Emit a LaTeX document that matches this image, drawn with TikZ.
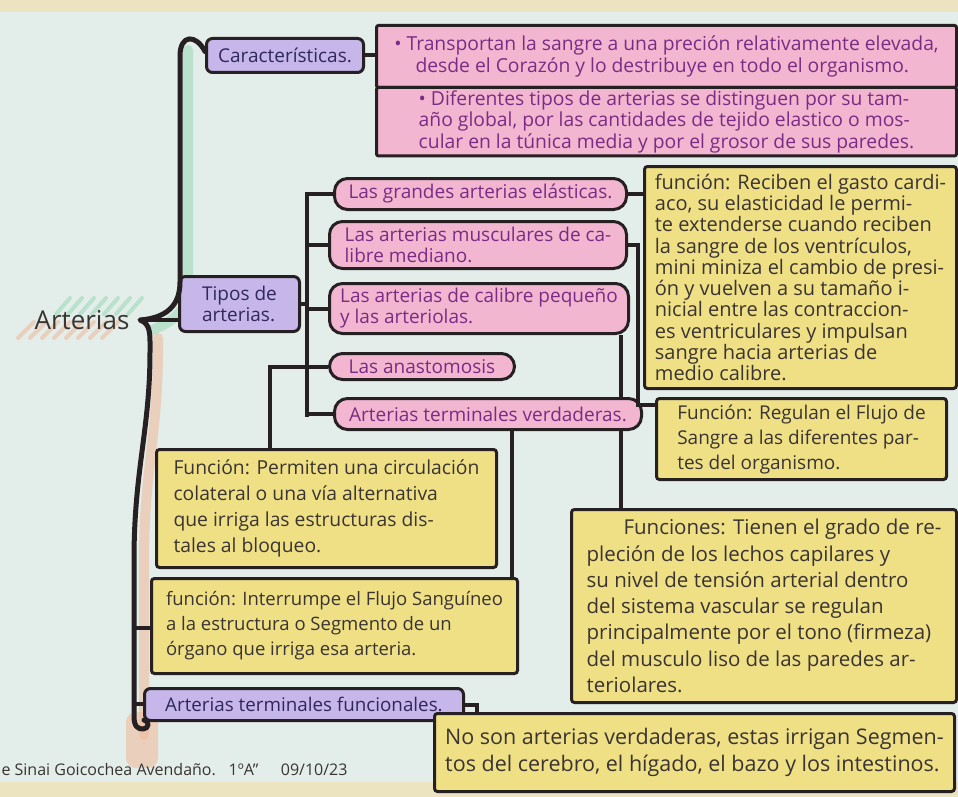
\documentclass[tikz,border=0pt]{standalone}
\usepackage{fontspec}
\setmainfont{Open Sans}
\usepackage{xcolor}

\definecolor{papel}{RGB}{227,237,233}
\definecolor{cinta}{RGB}{236,227,192}
\definecolor{tinta}{RGB}{38,32,34}
\definecolor{lila}{RGB}{198,182,234}
\definecolor{rosa}{RGB}{242,182,208}
\definecolor{amarillo}{RGB}{239,224,134}
\definecolor{txtlila}{RGB}{48,40,92}
\definecolor{txtrosa}{RGB}{122,44,132}
\definecolor{txtgris}{RGB}{58,52,50}
\definecolor{verdeR}{RGB}{160,218,184}
\definecolor{naranjaR}{RGB}{240,188,158}

\begin{document}
\begin{tikzpicture}[x=1pt, y=-1pt,
    caja/.style={draw=tinta, line width=3pt, anchor=north west, inner sep=3pt, align=left},
    lilabox/.style={caja, fill=lila, rounded corners=6pt, text=txtlila,
        font=\fontsize{19}{21}\selectfont},
    rosabox/.style={caja, fill=rosa, rounded corners=13pt, text=txtrosa,
        font=\fontsize{19}{21}\selectfont},
    notabox/.style={caja, fill=rosa, rounded corners=2pt, text=txtrosa,
        font=\fontsize{19.3}{21.5}\selectfont},
    amabox/.style={caja, fill=amarillo, rounded corners=3pt, text=txtgris},
    conector/.style={draw=tinta, line width=4pt},
    llave/.style={draw=tinta, line width=5pt, line cap=round, line join=round},
    resalte/.style={line width=10pt, line cap=round, opacity=.6}]

    \useasboundingbox (0,0) rectangle (958,797);
    \clip (0,0) rectangle (958,797);

    % hoja y bordes del cuaderno
    \fill[papel] (0,0) rectangle (958,797);
    \fill[cinta] (0,0) rectangle (958,12);
    \fill[cinta] (0,782) rectangle (958,797);

    % resaltado de la llave
    \draw[resalte, verdeR] (188,50) -- (188,285) .. controls (188,312) and (172,322) .. (152,330);
    \draw[resalte, naranjaR] (158,338) .. controls (159,430) and (144,470) .. (144,560) -- (144,735);
    \fill[naranjaR, opacity=.6, rounded corners=10pt] (126,712) rectangle (158,768);
    \foreach \x in {56,68,...,128} {
        \draw[resalte, verdeR, line width=4pt] (\x,314) -- ++(14,-16);
    }
    \foreach \x in {18,30,...,106} {
        \draw[resalte, naranjaR, line width=4pt] (\x,338) -- ++(16,-16);
    }

    \node[font=\fontsize{26}{28}\selectfont, text=txtgris] (arterias) at (82,320) {Arterias};
    \coordinate (punta) at (140,320);

    % cajas
    \node[lilabox, minimum width=157, minimum height=34] (caract) at (205,37) {Características.};
    \node[notabox, minimum width=580, minimum height=62] (transporta) at (375,24)
        {• Transportan la sangre a una preción relativamente elevada,\\
         \hspace*{1.1em}desde el Corazón y lo destribuye en todo el organismo.};
    \node[notabox, minimum width=580, minimum height=66] (diferentes) at (375,86)
        {• Diferentes tipos de arterias se distinguen por su tam-\\
         año global, por las cantidades de tejido elastico o mos-\\
         cular en la túnica media y por el grosor de sus paredes.};

    \node[lilabox, minimum width=120, minimum height=55] (tipos) at (178,275) {Tipos de\\arterias.};

    \node[rosabox, minimum width=292, minimum height=31] (grandes) at (333,177) {Las grandes arterias elásticas.};
    \node[rosabox, minimum width=297, minimum height=47] (musculares) at (328,220)
        {Las arterias musculares de ca-\\libre mediano.};
    \node[rosabox, minimum width=299, minimum height=50] (pequeno) at (328,282)
        {Las arterias de calibre pequeño\\y las arteriolas.};
    \node[rosabox, minimum width=185, minimum height=26] (anast) at (328,352) {Las anastomosis};
    \node[rosabox, minimum width=307, minimum height=31] (verdaderas) at (333,397)
        {Arterias terminales verdaderas.};

    \node[amabox, minimum width=312, minimum height=222, font=\fontsize{20}{21.3}\selectfont] (reciben) at (643,165)
        {función: Reciben el gasto cardi-\\
         aco, su elasticidad le permi-\\
         te extenderse cuando reciben\\
         la sangre de los ventrículos,\\
         mini miniza el cambio de presi-\\
         ón y vuelven a su tamaño i-\\
         nicial entre las contraccion-\\
         es ventriculares y impulsan\\
         sangre hacia arterias de\\
         medio calibre.};
    \node[amabox, minimum width=290, minimum height=81, font=\fontsize{19}{25}\selectfont] (regulan) at (655,397)
        {Función: Regulan el Flujo de\\
         Sangre a las diferentes par-\\
         tes del organismo.};
    \node[amabox, minimum width=340, minimum height=118, font=\fontsize{19.3}{26}\selectfont] (permiten) at (155,448)
        {Función: Permiten una circulación\\
         colateral o una vía alternativa\\
         que irriga las estructuras dis-\\
         tales al bloqueo.};
    \node[amabox, minimum width=366, minimum height=95, font=\fontsize{18.5}{25}\selectfont] (interrumpe) at (150,577)
        {función: Interrumpe el Flujo Sanguíneo\\
         a la estructura o Segmento de un\\
         órgano que irriga esa arteria.};
    \node[amabox, minimum width=385, minimum height=193, font=\fontsize{20.5}{26.3}\selectfont] (funciones) at (570,508)
        {\hspace*{1.8em}Funciones: Tienen el grado de re-\\
         pleción de los lechos capilares y\\
         su nivel de tensión arterial dentro\\
         del sistema vascular se regulan\\
         principalmente por el tono (firmeza)\\
         del musculo liso de las paredes ar-\\
         teriolares.};

    \node[lilabox, minimum width=319, minimum height=32, font=\fontsize{18.8}{21}\selectfont] (funcionales) at (143,687) {Arterias terminales funcionales.};
    \node[amabox, minimum width=520, minimum height=78, font=\fontsize{21.5}{27}\selectfont] (noson) at (433,712)
        {No son arterias verdaderas, estas irrigan Segmen-\\
         tos del cerebro, el hígado, el bazo y los intestinos.};

    \node[anchor=west, text=txtgris, font=\fontsize{16}{18}\selectfont] (firma) at (-2,770)
        {e Sinai Goicochea Avendaño.\hspace{0.8em}1ºA”\hspace{1.4em}09/10/23};

    % llave principal
    \draw[llave] (caract.west) ++(0,-4) .. controls (196,34) and (180,34) .. (180,56) -- (180,282)
        .. controls (180,306) and (166,318) .. (punta)
        .. controls (151,324) and (150,334) .. (150,352)
        .. controls (150,430) and (134,470) .. (134,560) -- (134,716)
        .. controls (134,727) and (138,729) .. (143,729)
        .. controls (149,729) and (150,721) .. (144,720);
    \coordinate (b1) at (134,628);
    \coordinate (b2) at (134,704);
    \draw[conector] (punta) -- (tipos.west |- punta);
    \draw[conector] (b1) -- (interrumpe.west |- b1);
    \draw[conector] (b2) -- (funcionales.west |- b2);

    % ramas
    \draw[conector] (caract.east) -- (transporta.west |- caract.east);
    \coordinate (vtop) at (307,192);
    \coordinate (vbot) at (307,417);
    \draw[conector] (vtop) -- (vbot);
    \draw[conector] (tipos.east) -- (tipos.east -| vtop);
    \foreach \n in {grandes,musculares,pequeno,anast,verdaderas}
        \draw[conector] (\n.west -| vtop) -- (\n.west);

    \coordinate (a1) at (270,0);
    \coordinate (m1) at (638,405);
    \coordinate (p1) at (621,0);
    \coordinate (v1) at (512,0);
    \coordinate (f1) at (477,0);
    \draw[conector] (anast.west) -- (anast.west -| a1) -- (permiten.north -| a1);
    \draw[conector] (grandes.east) -- (reciben.west |- grandes.east);
    \draw[conector] (musculares.east) -| (m1) -- (regulan.west |- m1);
    \draw[conector] (pequeno.south -| p1) -- (verdaderas.north -| p1);
    \draw[conector] (verdaderas.south -| p1) -- (funciones.north -| p1);
    \draw[conector] (verdaderas.south -| v1) -- (interrumpe.north -| v1);
    \draw[conector] (funcionales.east) -| (noson.north -| f1);
\end{tikzpicture}
\end{document}
